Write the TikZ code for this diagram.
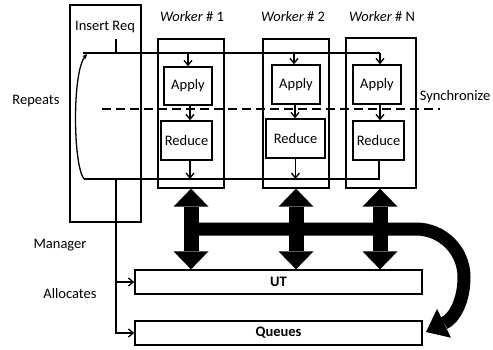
\documentclass[tikz,border=0pt]{standalone}
\usepackage{fontspec}
\setmainfont{Carlito}
\usetikzlibrary{arrows.meta,calc}
\begin{document}
\begin{tikzpicture}[x=1pt,y=-1pt,
  every node/.style={font=\fontsize{14.5}{17}\selectfont,inner sep=0pt},
  box/.style={draw,line width=1.3pt},
  wire/.style={line width=1.3pt},
  arr/.style={line width=1.3pt,-{Straight Barb[length=5pt,width=8pt]}},
  syncline/.style={line width=1.8pt,dash pattern=on 9pt off 5pt},
  bigarrow/.style={line width=15pt,{Triangle[length=18pt,width=35pt,line width=0pt]}-{Triangle[length=18pt,width=35pt,line width=0pt]}},
  looparrow/.style={line width=13pt,-{Triangle[length=20pt,width=32pt,line width=0pt]}}]
\useasboundingbox (0,0) rectangle (493,349);

% manager column
\node[box,minimum width=71pt,minimum height=217pt] (mgr) at (105.5,113.5) {};
\node (ins) at (105,27) {Insert Req};

% worker columns
\node[box,minimum width=66pt,minimum height=149pt] (w1) at (191,113.5) {};
\node[box,minimum width=66pt,minimum height=149pt] (w2) at (296,113.5) {};
\node[box,minimum width=70pt,minimum height=150pt] (wN) at (381,113) {};
\node (t1) at (192,17) {\textit{Worker} \# 1};
\node (t2) at (293,17) {\textit{Worker} \# 2};
\node (tN) at (382,17) {\textit{Worker} \# N};

\node[box,minimum width=48pt,minimum height=38pt] (a1) at (188,86) {Apply};
\node[box,minimum width=48pt,minimum height=39pt] (a2) at (296,84.5) {Apply};
\node[box,minimum width=48pt,minimum height=39pt] (aN) at (377,84.5) {Apply};
\node[box,minimum width=51pt,minimum height=39pt] (r1) at (186.5,140.5) {Reduce};
\node[box,minimum width=59pt,minimum height=39pt] (r2) at (295.5,138.5) {Reduce};
\node[box,minimum width=51pt,minimum height=39pt] (rN) at (378.5,140.5) {Reduce};

% shared tables
\node[box,minimum width=287pt,minimum height=24pt] (ut) at (278.5,282) {\textbf{UT}};
\node[box,minimum width=287pt,minimum height=24pt] (qu) at (278.5,333) {\textbf{Queues}};

% side labels
\node (rep) at (36,101) {Repeats};
\node (syn) at (455,97) {Synchronize};
\node (man) at (60,245) {Manager};
\node (alc) at (70,294) {Allocates};

% loop wiring
\coordinate (top0) at (83,53);
\coordinate (topN) at (380,53);
\coordinate (bot0) at (84,179);
\coordinate (botN) at (379,179);
\coordinate (req) at (116,39);
\coordinate (mgrb) at (116,179);

\draw[wire] (req) -- (req |- top0);
\draw[wire] (top0) -- (topN);
\draw[arr] (topN) -- (topN |- aN.north);
\draw[arr] (a1.north |- top0) -- (a1.north);
\draw[arr] ([xshift=-2pt]a2.north |- top0) -- ([xshift=-2pt]a2.north);
\draw[arr] ([xshift=2pt]a1.south) -- ([xshift=2pt]a1.south |- r1.north);
\draw[arr] ([xshift=-1pt]a2.south) -- ([xshift=-1pt]a2.south |- r2.north);
\draw[arr] ([xshift=3pt]aN.south) -- ([xshift=3pt]aN.south |- rN.north);
\draw[arr] ([xshift=3.5pt]r1.south) -- ([xshift=3.5pt]r1.south |- bot0);
\draw[arr] (r2.south) -- (r2.south |- bot0);
\draw[wire] (bot0) -- (botN) -- ([xshift=0.5pt]rN.south);
\draw[wire,-{Stealth[length=5pt,width=4.5pt]}] (bot0) .. controls (73,165) and (72,72) .. (87,54);

% manager allocation
\draw[arr] (mgrb) |- (qu.west);
\draw[arr] (mgrb |- ut.west) -- (ut.west);

% synchronisation barrier
\draw[syncline] (102,109) -- (440,109);

% data exchange with the tables
\coordinate (hb) at (191,229);
\draw[looparrow] (hb) -- (416,229) .. controls (442.5,229) and (464,250.5) .. (464,277)
  .. controls (464,300) and (455,318) .. (426,332);
\draw[bigarrow] (w1.south) -- (w1.south |- ut.north);
\draw[bigarrow] (w2.south) -- (w2.south |- ut.north);
\draw[bigarrow] ([xshift=-1pt]wN.south) -- ([xshift=-1pt]wN.south |- ut.north);
\end{tikzpicture}
\end{document}
